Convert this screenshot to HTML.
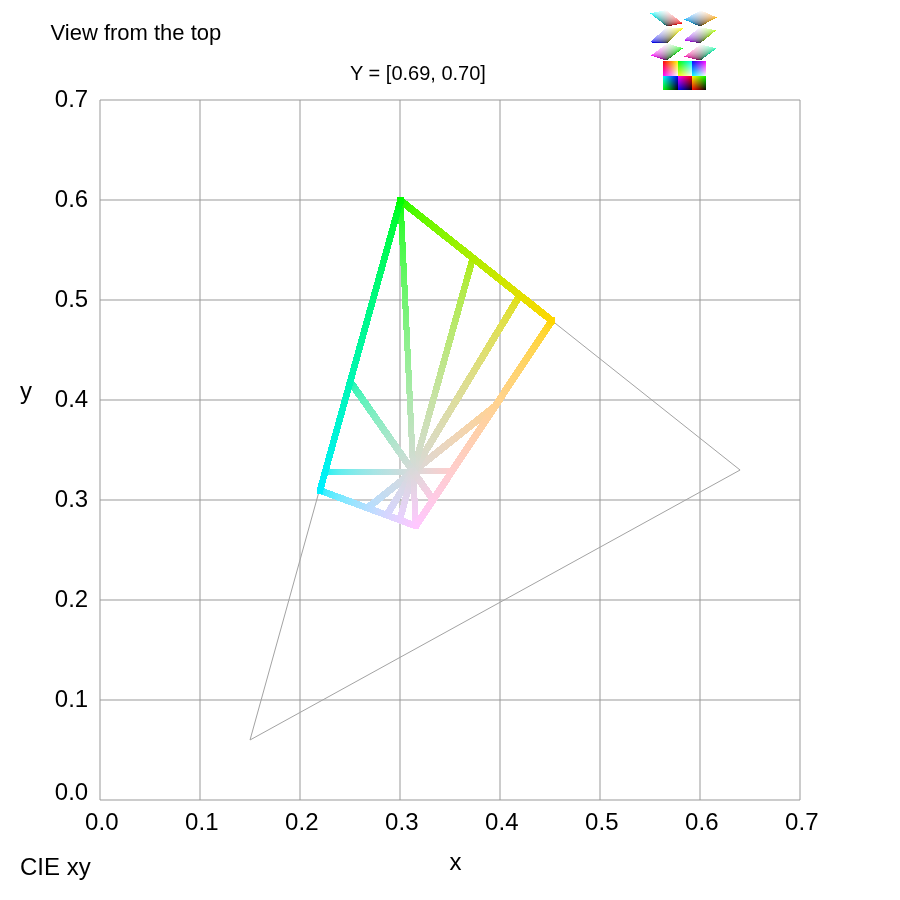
<!DOCTYPE html>
<html><head><meta charset="utf-8"><style>
html,body{margin:0;padding:0;background:#fff;width:900px;height:900px;overflow:hidden}
svg{display:block}
text{font-family:"Liberation Sans",Arial,sans-serif;fill:#000}
</style></head><body>
<svg width="900" height="900" viewBox="0 0 900 900">
<defs>
<linearGradient id="g0" gradientUnits="userSpaceOnUse" x1="412.72" y1="471.00" x2="451.40" y2="470.88"><stop offset="0.0000" stop-color="#d9d9d9"/><stop offset="0.0322" stop-color="#dbd9d9"/><stop offset="0.0645" stop-color="#dcd8d8"/><stop offset="0.0967" stop-color="#ddd8d8"/><stop offset="0.1290" stop-color="#dfd8d8"/><stop offset="0.1612" stop-color="#e0d7d7"/><stop offset="0.1935" stop-color="#e1d7d7"/><stop offset="0.2257" stop-color="#e2d7d7"/><stop offset="0.2580" stop-color="#e4d6d6"/><stop offset="0.2903" stop-color="#e5d6d6"/><stop offset="0.3225" stop-color="#e6d5d5"/><stop offset="0.3548" stop-color="#e8d5d5"/><stop offset="0.3870" stop-color="#e9d5d5"/><stop offset="0.4193" stop-color="#ead4d4"/><stop offset="0.4515" stop-color="#ebd4d4"/><stop offset="0.4838" stop-color="#ecd4d4"/><stop offset="0.5160" stop-color="#eed3d3"/><stop offset="0.5483" stop-color="#efd3d3"/><stop offset="0.5806" stop-color="#f0d2d2"/><stop offset="0.6128" stop-color="#f1d2d2"/><stop offset="0.6451" stop-color="#f2d2d2"/><stop offset="0.6773" stop-color="#f4d1d1"/><stop offset="0.7096" stop-color="#f5d1d1"/><stop offset="0.7419" stop-color="#f6d0d0"/><stop offset="0.7741" stop-color="#f7d0d0"/><stop offset="0.8064" stop-color="#f8d0d0"/><stop offset="0.8387" stop-color="#f9cfcf"/><stop offset="0.8709" stop-color="#fbcfcf"/><stop offset="0.9032" stop-color="#fccfcf"/><stop offset="0.9355" stop-color="#fdcece"/><stop offset="0.9677" stop-color="#fecece"/><stop offset="1.0000" stop-color="#ffcdcd"/></linearGradient>
<linearGradient id="g1" gradientUnits="userSpaceOnUse" x1="412.72" y1="471.00" x2="494.58" y2="405.73"><stop offset="0.0000" stop-color="#d9d9d9"/><stop offset="0.0271" stop-color="#dbd9d7"/><stop offset="0.0544" stop-color="#dcd9d5"/><stop offset="0.0821" stop-color="#ddd8d4"/><stop offset="0.1100" stop-color="#dfd8d2"/><stop offset="0.1383" stop-color="#e0d8d0"/><stop offset="0.1669" stop-color="#e1d8ce"/><stop offset="0.1957" stop-color="#e2d8cc"/><stop offset="0.2250" stop-color="#e4d7ca"/><stop offset="0.2545" stop-color="#e5d7c8"/><stop offset="0.2844" stop-color="#e6d7c6"/><stop offset="0.3146" stop-color="#e8d7c4"/><stop offset="0.3451" stop-color="#e9d6c2"/><stop offset="0.3760" stop-color="#ead6c0"/><stop offset="0.4073" stop-color="#ebd6be"/><stop offset="0.4389" stop-color="#ecd6bb"/><stop offset="0.4709" stop-color="#eed6b9"/><stop offset="0.5033" stop-color="#efd5b7"/><stop offset="0.5360" stop-color="#f0d5b5"/><stop offset="0.5692" stop-color="#f1d5b2"/><stop offset="0.6027" stop-color="#f2d5b0"/><stop offset="0.6367" stop-color="#f4d4ae"/><stop offset="0.6710" stop-color="#f5d4ab"/><stop offset="0.7058" stop-color="#f6d4a9"/><stop offset="0.7410" stop-color="#f7d4a6"/><stop offset="0.7766" stop-color="#f8d3a3"/><stop offset="0.8127" stop-color="#f9d3a1"/><stop offset="0.8492" stop-color="#fbd39e"/><stop offset="0.8862" stop-color="#fcd39b"/><stop offset="0.9237" stop-color="#fdd399"/><stop offset="0.9616" stop-color="#fed296"/><stop offset="1.0000" stop-color="#ffd293"/></linearGradient>
<linearGradient id="g2" gradientUnits="userSpaceOnUse" x1="412.72" y1="471.00" x2="519.32" y2="294.74"><stop offset="0.0000" stop-color="#d9d9d9"/><stop offset="0.0212" stop-color="#d9d9d6"/><stop offset="0.0430" stop-color="#dadad3"/><stop offset="0.0652" stop-color="#dadad0"/><stop offset="0.0880" stop-color="#dadacc"/><stop offset="0.1113" stop-color="#dadac9"/><stop offset="0.1352" stop-color="#dbdbc5"/><stop offset="0.1596" stop-color="#dbdbc2"/><stop offset="0.1847" stop-color="#dbdbbe"/><stop offset="0.2103" stop-color="#dbdbba"/><stop offset="0.2367" stop-color="#dcdcb7"/><stop offset="0.2637" stop-color="#dcdcb3"/><stop offset="0.2914" stop-color="#dcdcae"/><stop offset="0.3199" stop-color="#dcdcaa"/><stop offset="0.3491" stop-color="#dddda6"/><stop offset="0.3791" stop-color="#dddda1"/><stop offset="0.4099" stop-color="#dddd9d"/><stop offset="0.4416" stop-color="#dddd98"/><stop offset="0.4741" stop-color="#dddd93"/><stop offset="0.5076" stop-color="#dede8e"/><stop offset="0.5421" stop-color="#dede88"/><stop offset="0.5776" stop-color="#dede82"/><stop offset="0.6142" stop-color="#dede7c"/><stop offset="0.6518" stop-color="#dfdf75"/><stop offset="0.6906" stop-color="#dfdf6e"/><stop offset="0.7307" stop-color="#dfdf67"/><stop offset="0.7720" stop-color="#dfdf5e"/><stop offset="0.8147" stop-color="#e0e054"/><stop offset="0.8587" stop-color="#e0e049"/><stop offset="0.9042" stop-color="#e0e03c"/><stop offset="0.9513" stop-color="#e0e029"/><stop offset="1.0000" stop-color="#e0e000"/></linearGradient>
<linearGradient id="g3" gradientUnits="userSpaceOnUse" x1="412.72" y1="471.00" x2="472.35" y2="257.45"><stop offset="0.0000" stop-color="#d9d9d9"/><stop offset="0.0198" stop-color="#d8dad6"/><stop offset="0.0401" stop-color="#d7dbd3"/><stop offset="0.0610" stop-color="#d5dbd0"/><stop offset="0.0824" stop-color="#d4dccc"/><stop offset="0.1044" stop-color="#d3dcc9"/><stop offset="0.1270" stop-color="#d2ddc5"/><stop offset="0.1503" stop-color="#d0dec2"/><stop offset="0.1742" stop-color="#cfdebe"/><stop offset="0.1988" stop-color="#cedfba"/><stop offset="0.2241" stop-color="#cde0b7"/><stop offset="0.2501" stop-color="#cbe0b3"/><stop offset="0.2769" stop-color="#cae1ae"/><stop offset="0.3046" stop-color="#c9e2aa"/><stop offset="0.3331" stop-color="#c7e2a6"/><stop offset="0.3624" stop-color="#c6e3a1"/><stop offset="0.3928" stop-color="#c4e49d"/><stop offset="0.4241" stop-color="#c3e498"/><stop offset="0.4564" stop-color="#c2e593"/><stop offset="0.4898" stop-color="#c0e68e"/><stop offset="0.5244" stop-color="#bfe688"/><stop offset="0.5601" stop-color="#bde782"/><stop offset="0.5971" stop-color="#bce77c"/><stop offset="0.6355" stop-color="#bae875"/><stop offset="0.6752" stop-color="#b9e96e"/><stop offset="0.7164" stop-color="#b7e967"/><stop offset="0.7592" stop-color="#b6ea5e"/><stop offset="0.8037" stop-color="#b4ea54"/><stop offset="0.8498" stop-color="#b3eb49"/><stop offset="0.8979" stop-color="#b1ec3c"/><stop offset="0.9479" stop-color="#b0ec29"/><stop offset="1.0000" stop-color="#aeed00"/></linearGradient>
<linearGradient id="g4" gradientUnits="userSpaceOnUse" x1="412.72" y1="471.00" x2="400.00" y2="200.00"><stop offset="0.0000" stop-color="#d9d9d9"/><stop offset="0.0179" stop-color="#d6dad6"/><stop offset="0.0364" stop-color="#d3dcd3"/><stop offset="0.0555" stop-color="#d0ddd0"/><stop offset="0.0751" stop-color="#ccdecc"/><stop offset="0.0954" stop-color="#c9dfc9"/><stop offset="0.1163" stop-color="#c5e0c5"/><stop offset="0.1379" stop-color="#c2e2c2"/><stop offset="0.1602" stop-color="#bee3be"/><stop offset="0.1832" stop-color="#bae4ba"/><stop offset="0.2070" stop-color="#b7e5b7"/><stop offset="0.2317" stop-color="#b3e6b3"/><stop offset="0.2572" stop-color="#aee7ae"/><stop offset="0.2837" stop-color="#aae9aa"/><stop offset="0.3111" stop-color="#a6eaa6"/><stop offset="0.3395" stop-color="#a1eba1"/><stop offset="0.3690" stop-color="#9dec9d"/><stop offset="0.3997" stop-color="#98ed98"/><stop offset="0.4316" stop-color="#93ee93"/><stop offset="0.4647" stop-color="#8eef8e"/><stop offset="0.4992" stop-color="#88f088"/><stop offset="0.5352" stop-color="#82f182"/><stop offset="0.5727" stop-color="#7cf27c"/><stop offset="0.6119" stop-color="#75f375"/><stop offset="0.6528" stop-color="#6ef56e"/><stop offset="0.6956" stop-color="#67f667"/><stop offset="0.7404" stop-color="#5ef75e"/><stop offset="0.7873" stop-color="#54f854"/><stop offset="0.8365" stop-color="#49f949"/><stop offset="0.8883" stop-color="#3cfa3c"/><stop offset="0.9427" stop-color="#29fb29"/><stop offset="1.0000" stop-color="#00fc00"/></linearGradient>
<linearGradient id="g5" gradientUnits="userSpaceOnUse" x1="412.72" y1="471.00" x2="349.69" y2="381.12"><stop offset="0.0000" stop-color="#d9d9d9"/><stop offset="0.0255" stop-color="#d6dad8"/><stop offset="0.0514" stop-color="#d3dbd7"/><stop offset="0.0776" stop-color="#d0dcd6"/><stop offset="0.1042" stop-color="#ccddd5"/><stop offset="0.1312" stop-color="#c9ded4"/><stop offset="0.1586" stop-color="#c5dfd3"/><stop offset="0.1864" stop-color="#c2e0d2"/><stop offset="0.2146" stop-color="#bee1d1"/><stop offset="0.2432" stop-color="#bae2d0"/><stop offset="0.2722" stop-color="#b7e3ce"/><stop offset="0.3017" stop-color="#b3e4cd"/><stop offset="0.3316" stop-color="#aee5cc"/><stop offset="0.3619" stop-color="#aae6cb"/><stop offset="0.3928" stop-color="#a6e7ca"/><stop offset="0.4241" stop-color="#a1e8c9"/><stop offset="0.4559" stop-color="#9de9c8"/><stop offset="0.4882" stop-color="#98eac6"/><stop offset="0.5210" stop-color="#93ebc5"/><stop offset="0.5543" stop-color="#8eecc4"/><stop offset="0.5881" stop-color="#88edc3"/><stop offset="0.6226" stop-color="#82edc2"/><stop offset="0.6575" stop-color="#7ceec0"/><stop offset="0.6931" stop-color="#75efbf"/><stop offset="0.7292" stop-color="#6ef0be"/><stop offset="0.7660" stop-color="#67f1bd"/><stop offset="0.8033" stop-color="#5ef2bc"/><stop offset="0.8413" stop-color="#54f3ba"/><stop offset="0.8800" stop-color="#49f4b9"/><stop offset="0.9193" stop-color="#3cf5b8"/><stop offset="0.9593" stop-color="#29f6b6"/><stop offset="1.0000" stop-color="#00f6b5"/></linearGradient>
<linearGradient id="g6" gradientUnits="userSpaceOnUse" x1="412.72" y1="471.00" x2="324.66" y2="471.26"><stop offset="0.0000" stop-color="#d9d9d9"/><stop offset="0.0323" stop-color="#d6dada"/><stop offset="0.0646" stop-color="#d3dbdb"/><stop offset="0.0968" stop-color="#d0dcdc"/><stop offset="0.1291" stop-color="#ccdcdc"/><stop offset="0.1614" stop-color="#c9dddd"/><stop offset="0.1937" stop-color="#c5dede"/><stop offset="0.2259" stop-color="#c2dfdf"/><stop offset="0.2582" stop-color="#bee0e0"/><stop offset="0.2905" stop-color="#bae1e1"/><stop offset="0.3228" stop-color="#b7e1e1"/><stop offset="0.3550" stop-color="#b3e2e2"/><stop offset="0.3873" stop-color="#aee3e3"/><stop offset="0.4195" stop-color="#aae4e4"/><stop offset="0.4518" stop-color="#a6e5e5"/><stop offset="0.4841" stop-color="#a1e5e5"/><stop offset="0.5163" stop-color="#9de6e6"/><stop offset="0.5486" stop-color="#98e7e7"/><stop offset="0.5808" stop-color="#93e8e8"/><stop offset="0.6131" stop-color="#8ee8e8"/><stop offset="0.6453" stop-color="#88e9e9"/><stop offset="0.6776" stop-color="#82eaea"/><stop offset="0.7098" stop-color="#7cebeb"/><stop offset="0.7421" stop-color="#75ebeb"/><stop offset="0.7743" stop-color="#6eecec"/><stop offset="0.8066" stop-color="#67eded"/><stop offset="0.8388" stop-color="#5eeeee"/><stop offset="0.8711" stop-color="#54eeee"/><stop offset="0.9033" stop-color="#49efef"/><stop offset="0.9355" stop-color="#3cf0f0"/><stop offset="0.9678" stop-color="#29f1f1"/><stop offset="1.0000" stop-color="#00f1f1"/></linearGradient>
<linearGradient id="g7" gradientUnits="userSpaceOnUse" x1="412.72" y1="471.00" x2="366.94" y2="507.50"><stop offset="0.0000" stop-color="#d9d9d9"/><stop offset="0.0361" stop-color="#d8d9db"/><stop offset="0.0720" stop-color="#d7d9dc"/><stop offset="0.1076" stop-color="#d6dadd"/><stop offset="0.1428" stop-color="#d5dadf"/><stop offset="0.1778" stop-color="#d4dae0"/><stop offset="0.2126" stop-color="#d3dae1"/><stop offset="0.2470" stop-color="#d2dae2"/><stop offset="0.2812" stop-color="#d1dae4"/><stop offset="0.3151" stop-color="#d0dbe5"/><stop offset="0.3488" stop-color="#cfdbe6"/><stop offset="0.3822" stop-color="#cddbe8"/><stop offset="0.4153" stop-color="#ccdbe9"/><stop offset="0.4482" stop-color="#cbdbea"/><stop offset="0.4809" stop-color="#cadbeb"/><stop offset="0.5133" stop-color="#c9dcec"/><stop offset="0.5454" stop-color="#c8dcee"/><stop offset="0.5773" stop-color="#c7dcef"/><stop offset="0.6090" stop-color="#c5dcf0"/><stop offset="0.6404" stop-color="#c4dcf1"/><stop offset="0.6716" stop-color="#c3dcf2"/><stop offset="0.7026" stop-color="#c2ddf4"/><stop offset="0.7333" stop-color="#c1ddf5"/><stop offset="0.7638" stop-color="#c0ddf6"/><stop offset="0.7941" stop-color="#beddf7"/><stop offset="0.8241" stop-color="#bdddf8"/><stop offset="0.8540" stop-color="#bcddf9"/><stop offset="0.8836" stop-color="#bbdefb"/><stop offset="0.9130" stop-color="#b9defc"/><stop offset="0.9422" stop-color="#b8defd"/><stop offset="0.9712" stop-color="#b7defe"/><stop offset="1.0000" stop-color="#b6deff"/></linearGradient>
<linearGradient id="g8" gradientUnits="userSpaceOnUse" x1="412.72" y1="471.00" x2="386.30" y2="514.68"><stop offset="0.0000" stop-color="#d9d9d9"/><stop offset="0.0370" stop-color="#d9d9db"/><stop offset="0.0737" stop-color="#d9d9dc"/><stop offset="0.1100" stop-color="#d9d9dd"/><stop offset="0.1459" stop-color="#d9d9df"/><stop offset="0.1815" stop-color="#d9d9e0"/><stop offset="0.2168" stop-color="#d9d9e1"/><stop offset="0.2517" stop-color="#d8d8e2"/><stop offset="0.2863" stop-color="#d8d8e4"/><stop offset="0.3205" stop-color="#d8d8e5"/><stop offset="0.3545" stop-color="#d8d8e6"/><stop offset="0.3881" stop-color="#d8d8e8"/><stop offset="0.4214" stop-color="#d8d8e9"/><stop offset="0.4544" stop-color="#d8d8ea"/><stop offset="0.4871" stop-color="#d8d8eb"/><stop offset="0.5195" stop-color="#d8d8ec"/><stop offset="0.5516" stop-color="#d7d7ee"/><stop offset="0.5834" stop-color="#d7d7ef"/><stop offset="0.6149" stop-color="#d7d7f0"/><stop offset="0.6461" stop-color="#d7d7f1"/><stop offset="0.6771" stop-color="#d7d7f2"/><stop offset="0.7077" stop-color="#d7d7f4"/><stop offset="0.7381" stop-color="#d7d7f5"/><stop offset="0.7683" stop-color="#d7d7f6"/><stop offset="0.7981" stop-color="#d7d7f7"/><stop offset="0.8277" stop-color="#d6d6f8"/><stop offset="0.8571" stop-color="#d6d6f9"/><stop offset="0.8861" stop-color="#d6d6fb"/><stop offset="0.9150" stop-color="#d6d6fc"/><stop offset="0.9436" stop-color="#d6d6fd"/><stop offset="0.9719" stop-color="#d6d6fe"/><stop offset="1.0000" stop-color="#d6d6ff"/></linearGradient>
<linearGradient id="g9" gradientUnits="userSpaceOnUse" x1="412.72" y1="471.00" x2="399.18" y2="519.46"><stop offset="0.0000" stop-color="#d9d9d9"/><stop offset="0.0376" stop-color="#dad9db"/><stop offset="0.0748" stop-color="#dad9dc"/><stop offset="0.1116" stop-color="#dbd8dd"/><stop offset="0.1480" stop-color="#dbd8df"/><stop offset="0.1840" stop-color="#dcd8e0"/><stop offset="0.2196" stop-color="#dcd7e1"/><stop offset="0.2549" stop-color="#ddd7e2"/><stop offset="0.2897" stop-color="#ddd7e4"/><stop offset="0.3242" stop-color="#ded6e5"/><stop offset="0.3583" stop-color="#ded6e6"/><stop offset="0.3921" stop-color="#dfd6e8"/><stop offset="0.4255" stop-color="#dfd6e9"/><stop offset="0.4586" stop-color="#e0d5ea"/><stop offset="0.4913" stop-color="#e0d5eb"/><stop offset="0.5237" stop-color="#e1d5ec"/><stop offset="0.5557" stop-color="#e1d4ee"/><stop offset="0.5875" stop-color="#e2d4ef"/><stop offset="0.6189" stop-color="#e2d4f0"/><stop offset="0.6500" stop-color="#e3d3f1"/><stop offset="0.6807" stop-color="#e4d3f2"/><stop offset="0.7112" stop-color="#e4d3f4"/><stop offset="0.7414" stop-color="#e5d3f5"/><stop offset="0.7713" stop-color="#e5d2f6"/><stop offset="0.8008" stop-color="#e5d2f7"/><stop offset="0.8301" stop-color="#e6d2f8"/><stop offset="0.8591" stop-color="#e6d1f9"/><stop offset="0.8878" stop-color="#e7d1fb"/><stop offset="0.9163" stop-color="#e7d1fc"/><stop offset="0.9445" stop-color="#e8d0fd"/><stop offset="0.9724" stop-color="#e8d0fe"/><stop offset="1.0000" stop-color="#e9d0ff"/></linearGradient>
<linearGradient id="g10" gradientUnits="userSpaceOnUse" x1="412.72" y1="471.00" x2="415.27" y2="525.42"><stop offset="0.0000" stop-color="#d9d9d9"/><stop offset="0.0384" stop-color="#dbd9db"/><stop offset="0.0763" stop-color="#dcd8dc"/><stop offset="0.1138" stop-color="#ddd8dd"/><stop offset="0.1508" stop-color="#dfd7df"/><stop offset="0.1873" stop-color="#e0d6e0"/><stop offset="0.2233" stop-color="#e1d6e1"/><stop offset="0.2590" stop-color="#e2d5e2"/><stop offset="0.2942" stop-color="#e4d5e4"/><stop offset="0.3289" stop-color="#e5d4e5"/><stop offset="0.3633" stop-color="#e6d4e6"/><stop offset="0.3972" stop-color="#e8d3e8"/><stop offset="0.4308" stop-color="#e9d3e9"/><stop offset="0.4639" stop-color="#ead2ea"/><stop offset="0.4967" stop-color="#ebd1eb"/><stop offset="0.5290" stop-color="#ecd1ec"/><stop offset="0.5610" stop-color="#eed0ee"/><stop offset="0.5927" stop-color="#efd0ef"/><stop offset="0.6239" stop-color="#f0cff0"/><stop offset="0.6548" stop-color="#f1cef1"/><stop offset="0.6854" stop-color="#f2cef2"/><stop offset="0.7156" stop-color="#f4cdf4"/><stop offset="0.7455" stop-color="#f5cdf5"/><stop offset="0.7750" stop-color="#f6ccf6"/><stop offset="0.8042" stop-color="#f7ccf7"/><stop offset="0.8331" stop-color="#f8cbf8"/><stop offset="0.8617" stop-color="#f9caf9"/><stop offset="0.8900" stop-color="#fbcafb"/><stop offset="0.9179" stop-color="#fcc9fc"/><stop offset="0.9456" stop-color="#fdc9fd"/><stop offset="0.9729" stop-color="#fec8fe"/><stop offset="1.0000" stop-color="#ffc7ff"/></linearGradient>
<linearGradient id="g11" gradientUnits="userSpaceOnUse" x1="412.72" y1="471.00" x2="432.57" y2="499.31"><stop offset="0.0000" stop-color="#d9d9d9"/><stop offset="0.0352" stop-color="#dbd9da"/><stop offset="0.0702" stop-color="#dcd8da"/><stop offset="0.1049" stop-color="#ddd8db"/><stop offset="0.1395" stop-color="#dfd7db"/><stop offset="0.1738" stop-color="#e0d7db"/><stop offset="0.2080" stop-color="#e1d6dc"/><stop offset="0.2419" stop-color="#e2d6dc"/><stop offset="0.2757" stop-color="#e4d6dd"/><stop offset="0.3092" stop-color="#e5d5dd"/><stop offset="0.3426" stop-color="#e6d5de"/><stop offset="0.3757" stop-color="#e8d4de"/><stop offset="0.4087" stop-color="#e9d4df"/><stop offset="0.4414" stop-color="#ead3df"/><stop offset="0.4740" stop-color="#ebd3df"/><stop offset="0.5064" stop-color="#ecd2e0"/><stop offset="0.5386" stop-color="#eed2e0"/><stop offset="0.5706" stop-color="#efd1e1"/><stop offset="0.6024" stop-color="#f0d1e1"/><stop offset="0.6340" stop-color="#f1d0e2"/><stop offset="0.6655" stop-color="#f2d0e2"/><stop offset="0.6968" stop-color="#f4cfe2"/><stop offset="0.7279" stop-color="#f5cfe3"/><stop offset="0.7588" stop-color="#f6cee3"/><stop offset="0.7895" stop-color="#f7cee4"/><stop offset="0.8201" stop-color="#f8cde4"/><stop offset="0.8505" stop-color="#f9cde5"/><stop offset="0.8807" stop-color="#fbcce5"/><stop offset="0.9108" stop-color="#fccce5"/><stop offset="0.9407" stop-color="#fdcce6"/><stop offset="0.9704" stop-color="#fecbe6"/><stop offset="1.0000" stop-color="#ffcbe7"/></linearGradient>
<linearGradient id="g12" gradientUnits="userSpaceOnUse" x1="400.00" y1="200.00" x2="551.29" y2="320.13"><stop offset="0.0000" stop-color="#00fc00"/><stop offset="0.0265" stop-color="#28fb00"/><stop offset="0.0526" stop-color="#3afa00"/><stop offset="0.0786" stop-color="#47fa00"/><stop offset="0.1042" stop-color="#52f900"/><stop offset="0.1296" stop-color="#5cf800"/><stop offset="0.1547" stop-color="#64f700"/><stop offset="0.1795" stop-color="#6cf700"/><stop offset="0.2041" stop-color="#73f600"/><stop offset="0.2285" stop-color="#79f500"/><stop offset="0.2526" stop-color="#7ff400"/><stop offset="0.2764" stop-color="#85f400"/><stop offset="0.3001" stop-color="#8af300"/><stop offset="0.3234" stop-color="#8ff200"/><stop offset="0.3466" stop-color="#94f100"/><stop offset="0.3695" stop-color="#99f100"/><stop offset="0.3922" stop-color="#9ef000"/><stop offset="0.4147" stop-color="#a2ef00"/><stop offset="0.4370" stop-color="#a6ee00"/><stop offset="0.4590" stop-color="#aaee00"/><stop offset="0.4808" stop-color="#aeed00"/><stop offset="0.5025" stop-color="#b2ec00"/><stop offset="0.5239" stop-color="#b6eb00"/><stop offset="0.5451" stop-color="#baea00"/><stop offset="0.5661" stop-color="#bdea00"/><stop offset="0.5869" stop-color="#c1e900"/><stop offset="0.6075" stop-color="#c4e800"/><stop offset="0.6280" stop-color="#c8e700"/><stop offset="0.6482" stop-color="#cbe600"/><stop offset="0.6683" stop-color="#cee600"/><stop offset="0.6881" stop-color="#d1e500"/><stop offset="0.7078" stop-color="#d4e400"/><stop offset="0.7273" stop-color="#d7e300"/><stop offset="0.7467" stop-color="#dae200"/><stop offset="0.7658" stop-color="#dde100"/><stop offset="0.7848" stop-color="#e0e100"/><stop offset="0.8036" stop-color="#e3e000"/><stop offset="0.8223" stop-color="#e5df00"/><stop offset="0.8407" stop-color="#e8de00"/><stop offset="0.8591" stop-color="#ebdd00"/><stop offset="0.8772" stop-color="#eedc00"/><stop offset="0.8952" stop-color="#f0dc00"/><stop offset="0.9131" stop-color="#f3db00"/><stop offset="0.9308" stop-color="#f5da00"/><stop offset="0.9483" stop-color="#f8d900"/><stop offset="0.9657" stop-color="#fad800"/><stop offset="0.9829" stop-color="#fdd700"/><stop offset="1.0000" stop-color="#ffd600"/></linearGradient>
<linearGradient id="g13" gradientUnits="userSpaceOnUse" x1="551.29" y1="320.13" x2="415.27" y2="525.42"><stop offset="0.0000" stop-color="#ffd600"/><stop offset="0.0366" stop-color="#ffd628"/><stop offset="0.0721" stop-color="#ffd63a"/><stop offset="0.1065" stop-color="#ffd547"/><stop offset="0.1398" stop-color="#ffd552"/><stop offset="0.1722" stop-color="#ffd55c"/><stop offset="0.2037" stop-color="#ffd464"/><stop offset="0.2342" stop-color="#ffd46c"/><stop offset="0.2639" stop-color="#ffd473"/><stop offset="0.2927" stop-color="#ffd479"/><stop offset="0.3208" stop-color="#ffd37f"/><stop offset="0.3481" stop-color="#ffd385"/><stop offset="0.3747" stop-color="#ffd38a"/><stop offset="0.4006" stop-color="#ffd28f"/><stop offset="0.4258" stop-color="#ffd294"/><stop offset="0.4503" stop-color="#ffd299"/><stop offset="0.4742" stop-color="#ffd19e"/><stop offset="0.4976" stop-color="#ffd1a2"/><stop offset="0.5203" stop-color="#ffd1a6"/><stop offset="0.5425" stop-color="#ffd0aa"/><stop offset="0.5642" stop-color="#ffd0ae"/><stop offset="0.5853" stop-color="#ffd0b2"/><stop offset="0.6060" stop-color="#ffcfb6"/><stop offset="0.6261" stop-color="#ffcfba"/><stop offset="0.6459" stop-color="#ffcfbd"/><stop offset="0.6651" stop-color="#ffcfc1"/><stop offset="0.6839" stop-color="#ffcec4"/><stop offset="0.7023" stop-color="#ffcec8"/><stop offset="0.7203" stop-color="#ffcecb"/><stop offset="0.7379" stop-color="#ffcdce"/><stop offset="0.7552" stop-color="#ffcdd1"/><stop offset="0.7720" stop-color="#ffcdd4"/><stop offset="0.7885" stop-color="#ffccd7"/><stop offset="0.8047" stop-color="#ffccda"/><stop offset="0.8205" stop-color="#ffccdd"/><stop offset="0.8360" stop-color="#ffcbe0"/><stop offset="0.8512" stop-color="#ffcbe3"/><stop offset="0.8661" stop-color="#ffcbe5"/><stop offset="0.8807" stop-color="#ffcae8"/><stop offset="0.8950" stop-color="#ffcaeb"/><stop offset="0.9090" stop-color="#ffcaee"/><stop offset="0.9227" stop-color="#ffc9f0"/><stop offset="0.9362" stop-color="#ffc9f3"/><stop offset="0.9495" stop-color="#ffc9f5"/><stop offset="0.9625" stop-color="#ffc8f8"/><stop offset="0.9752" stop-color="#ffc8fa"/><stop offset="0.9877" stop-color="#ffc8fd"/><stop offset="1.0000" stop-color="#ffc7ff"/></linearGradient>
<linearGradient id="g14" gradientUnits="userSpaceOnUse" x1="415.27" y1="525.42" x2="319.48" y2="489.90"><stop offset="0.0000" stop-color="#ffc7ff"/><stop offset="0.0189" stop-color="#fdc8ff"/><stop offset="0.0379" stop-color="#fac9ff"/><stop offset="0.0569" stop-color="#f8caff"/><stop offset="0.0761" stop-color="#f5cbff"/><stop offset="0.0954" stop-color="#f3ccff"/><stop offset="0.1147" stop-color="#f0cdff"/><stop offset="0.1342" stop-color="#eeceff"/><stop offset="0.1537" stop-color="#ebcfff"/><stop offset="0.1734" stop-color="#e8d0ff"/><stop offset="0.1931" stop-color="#e5d1ff"/><stop offset="0.2129" stop-color="#e3d2ff"/><stop offset="0.2329" stop-color="#e0d3ff"/><stop offset="0.2529" stop-color="#ddd4ff"/><stop offset="0.2731" stop-color="#dad5ff"/><stop offset="0.2933" stop-color="#d7d5ff"/><stop offset="0.3137" stop-color="#d4d6ff"/><stop offset="0.3341" stop-color="#d1d7ff"/><stop offset="0.3547" stop-color="#ced8ff"/><stop offset="0.3753" stop-color="#cbd9ff"/><stop offset="0.3961" stop-color="#c8daff"/><stop offset="0.4170" stop-color="#c4dbff"/><stop offset="0.4379" stop-color="#c1dcff"/><stop offset="0.4590" stop-color="#bddcff"/><stop offset="0.4802" stop-color="#baddff"/><stop offset="0.5015" stop-color="#b6deff"/><stop offset="0.5230" stop-color="#b2dfff"/><stop offset="0.5445" stop-color="#aee0ff"/><stop offset="0.5661" stop-color="#aae1ff"/><stop offset="0.5879" stop-color="#a6e2ff"/><stop offset="0.6098" stop-color="#a2e2ff"/><stop offset="0.6317" stop-color="#9ee3ff"/><stop offset="0.6539" stop-color="#99e4ff"/><stop offset="0.6761" stop-color="#94e5ff"/><stop offset="0.6984" stop-color="#8fe6ff"/><stop offset="0.7209" stop-color="#8ae6ff"/><stop offset="0.7434" stop-color="#85e7ff"/><stop offset="0.7661" stop-color="#7fe8ff"/><stop offset="0.7890" stop-color="#79e9ff"/><stop offset="0.8119" stop-color="#73eaff"/><stop offset="0.8350" stop-color="#6ceaff"/><stop offset="0.8582" stop-color="#64ebff"/><stop offset="0.8815" stop-color="#5cecff"/><stop offset="0.9049" stop-color="#52edff"/><stop offset="0.9285" stop-color="#47eeff"/><stop offset="0.9522" stop-color="#3aeeff"/><stop offset="0.9760" stop-color="#28efff"/><stop offset="1.0000" stop-color="#00f0ff"/></linearGradient>
<linearGradient id="g15" gradientUnits="userSpaceOnUse" x1="319.48" y1="489.90" x2="400.00" y2="200.00"><stop offset="0.0000" stop-color="#00f0ff"/><stop offset="0.0111" stop-color="#00f0fd"/><stop offset="0.0225" stop-color="#00f0fa"/><stop offset="0.0340" stop-color="#00f1f8"/><stop offset="0.0459" stop-color="#00f1f5"/><stop offset="0.0580" stop-color="#00f1f3"/><stop offset="0.0703" stop-color="#00f1f0"/><stop offset="0.0829" stop-color="#00f2ee"/><stop offset="0.0959" stop-color="#00f2eb"/><stop offset="0.1091" stop-color="#00f2e8"/><stop offset="0.1226" stop-color="#00f3e5"/><stop offset="0.1364" stop-color="#00f3e3"/><stop offset="0.1505" stop-color="#00f3e0"/><stop offset="0.1650" stop-color="#00f3dd"/><stop offset="0.1798" stop-color="#00f4da"/><stop offset="0.1950" stop-color="#00f4d7"/><stop offset="0.2106" stop-color="#00f4d4"/><stop offset="0.2265" stop-color="#00f4d1"/><stop offset="0.2429" stop-color="#00f5ce"/><stop offset="0.2596" stop-color="#00f5cb"/><stop offset="0.2769" stop-color="#00f5c8"/><stop offset="0.2945" stop-color="#00f5c4"/><stop offset="0.3126" stop-color="#00f6c1"/><stop offset="0.3312" stop-color="#00f6bd"/><stop offset="0.3504" stop-color="#00f6ba"/><stop offset="0.3700" stop-color="#00f6b6"/><stop offset="0.3902" stop-color="#00f7b2"/><stop offset="0.4110" stop-color="#00f7ae"/><stop offset="0.4324" stop-color="#00f7aa"/><stop offset="0.4544" stop-color="#00f7a6"/><stop offset="0.4770" stop-color="#00f8a2"/><stop offset="0.5003" stop-color="#00f89e"/><stop offset="0.5244" stop-color="#00f899"/><stop offset="0.5492" stop-color="#00f894"/><stop offset="0.5748" stop-color="#00f98f"/><stop offset="0.6012" stop-color="#00f98a"/><stop offset="0.6285" stop-color="#00f985"/><stop offset="0.6566" stop-color="#00f97f"/><stop offset="0.6858" stop-color="#00fa79"/><stop offset="0.7159" stop-color="#00fa73"/><stop offset="0.7470" stop-color="#00fa6c"/><stop offset="0.7793" stop-color="#00fa64"/><stop offset="0.8128" stop-color="#00fb5c"/><stop offset="0.8475" stop-color="#00fb52"/><stop offset="0.8835" stop-color="#00fb47"/><stop offset="0.9208" stop-color="#00fb3a"/><stop offset="0.9596" stop-color="#00fc28"/><stop offset="1.0000" stop-color="#00fc00"/></linearGradient>
<linearGradient id="q16c0" x1="0.0000" y1="0.0000" x2="0.0000" y2="1.0000"><stop offset="0.0000" stop-color="#000000"/><stop offset="0.0625" stop-color="#470000"/><stop offset="0.1250" stop-color="#630000"/><stop offset="0.1875" stop-color="#780000"/><stop offset="0.2500" stop-color="#890000"/><stop offset="0.3125" stop-color="#980000"/><stop offset="0.3750" stop-color="#a50000"/><stop offset="0.4375" stop-color="#b10000"/><stop offset="0.5000" stop-color="#bc0000"/><stop offset="0.5625" stop-color="#c60000"/><stop offset="0.6250" stop-color="#cf0000"/><stop offset="0.6875" stop-color="#d80000"/><stop offset="0.7500" stop-color="#e10000"/><stop offset="0.8125" stop-color="#e90000"/><stop offset="0.8750" stop-color="#f00000"/><stop offset="0.9375" stop-color="#f80000"/><stop offset="1.0000" stop-color="#ff0000"/></linearGradient>
<linearGradient id="q16c1" x1="0.0000" y1="0.0000" x2="1.0000" y2="0.0000"><stop offset="0.0000" stop-color="#000000"/><stop offset="0.0625" stop-color="#004700"/><stop offset="0.1250" stop-color="#006300"/><stop offset="0.1875" stop-color="#007800"/><stop offset="0.2500" stop-color="#008900"/><stop offset="0.3125" stop-color="#009800"/><stop offset="0.3750" stop-color="#00a500"/><stop offset="0.4375" stop-color="#00b100"/><stop offset="0.5000" stop-color="#00bc00"/><stop offset="0.5625" stop-color="#00c600"/><stop offset="0.6250" stop-color="#00cf00"/><stop offset="0.6875" stop-color="#00d800"/><stop offset="0.7500" stop-color="#00e100"/><stop offset="0.8125" stop-color="#00e900"/><stop offset="0.8750" stop-color="#00f000"/><stop offset="0.9375" stop-color="#00f800"/><stop offset="1.0000" stop-color="#00ff00"/></linearGradient>
<linearGradient id="q16c2" x1="0.0000" y1="0.0000" x2="1.0000" y2="0.0000"><stop offset="0.0000" stop-color="#000000"/><stop offset="0.0625" stop-color="#000047"/><stop offset="0.1250" stop-color="#000063"/><stop offset="0.1875" stop-color="#000078"/><stop offset="0.2500" stop-color="#000089"/><stop offset="0.3125" stop-color="#000098"/><stop offset="0.3750" stop-color="#0000a5"/><stop offset="0.4375" stop-color="#0000b1"/><stop offset="0.5000" stop-color="#0000bc"/><stop offset="0.5625" stop-color="#0000c6"/><stop offset="0.6250" stop-color="#0000cf"/><stop offset="0.6875" stop-color="#0000d8"/><stop offset="0.7500" stop-color="#0000e1"/><stop offset="0.8125" stop-color="#0000e9"/><stop offset="0.8750" stop-color="#0000f0"/><stop offset="0.9375" stop-color="#0000f8"/><stop offset="1.0000" stop-color="#0000ff"/></linearGradient>
<linearGradient id="q17c0" x1="0.0000" y1="0.0000" x2="0.0000" y2="1.0000"><stop offset="0.0000" stop-color="#000000"/><stop offset="0.0625" stop-color="#470000"/><stop offset="0.1250" stop-color="#630000"/><stop offset="0.1875" stop-color="#780000"/><stop offset="0.2500" stop-color="#890000"/><stop offset="0.3125" stop-color="#980000"/><stop offset="0.3750" stop-color="#a50000"/><stop offset="0.4375" stop-color="#b10000"/><stop offset="0.5000" stop-color="#bc0000"/><stop offset="0.5625" stop-color="#c60000"/><stop offset="0.6250" stop-color="#cf0000"/><stop offset="0.6875" stop-color="#d80000"/><stop offset="0.7500" stop-color="#e10000"/><stop offset="0.8125" stop-color="#e90000"/><stop offset="0.8750" stop-color="#f00000"/><stop offset="0.9375" stop-color="#f80000"/><stop offset="1.0000" stop-color="#ff0000"/></linearGradient>
<linearGradient id="q17c1" x1="0.0000" y1="0.0000" x2="1.0000" y2="1.0000"><stop offset="0.0000" stop-color="#000000"/><stop offset="0.0625" stop-color="#004700"/><stop offset="0.1250" stop-color="#006300"/><stop offset="0.1875" stop-color="#007800"/><stop offset="0.2500" stop-color="#008900"/><stop offset="0.3125" stop-color="#009800"/><stop offset="0.3750" stop-color="#00a500"/><stop offset="0.4375" stop-color="#00b100"/><stop offset="0.5000" stop-color="#00bc00"/><stop offset="0.5625" stop-color="#00c600"/><stop offset="0.6250" stop-color="#00cf00"/><stop offset="0.6875" stop-color="#00d800"/><stop offset="0.7500" stop-color="#00e100"/><stop offset="0.8125" stop-color="#00e900"/><stop offset="0.8750" stop-color="#00f000"/><stop offset="0.9375" stop-color="#00f800"/><stop offset="1.0000" stop-color="#00ff00"/></linearGradient>
<linearGradient id="q17c2" x1="0.0000" y1="0.0000" x2="1.0000" y2="0.0000"><stop offset="0.0000" stop-color="#000000"/><stop offset="0.0625" stop-color="#000047"/><stop offset="0.1250" stop-color="#000063"/><stop offset="0.1875" stop-color="#000078"/><stop offset="0.2500" stop-color="#000089"/><stop offset="0.3125" stop-color="#000098"/><stop offset="0.3750" stop-color="#0000a5"/><stop offset="0.4375" stop-color="#0000b1"/><stop offset="0.5000" stop-color="#0000bc"/><stop offset="0.5625" stop-color="#0000c6"/><stop offset="0.6250" stop-color="#0000cf"/><stop offset="0.6875" stop-color="#0000d8"/><stop offset="0.7500" stop-color="#0000e1"/><stop offset="0.8125" stop-color="#0000e9"/><stop offset="0.8750" stop-color="#0000f0"/><stop offset="0.9375" stop-color="#0000f8"/><stop offset="1.0000" stop-color="#0000ff"/></linearGradient>
<linearGradient id="q18c0" x1="0.0000" y1="0.0000" x2="0.0000" y2="1.0000"><stop offset="0.0000" stop-color="#000000"/><stop offset="0.0625" stop-color="#470000"/><stop offset="0.1250" stop-color="#630000"/><stop offset="0.1875" stop-color="#780000"/><stop offset="0.2500" stop-color="#890000"/><stop offset="0.3125" stop-color="#980000"/><stop offset="0.3750" stop-color="#a50000"/><stop offset="0.4375" stop-color="#b10000"/><stop offset="0.5000" stop-color="#bc0000"/><stop offset="0.5625" stop-color="#c60000"/><stop offset="0.6250" stop-color="#cf0000"/><stop offset="0.6875" stop-color="#d80000"/><stop offset="0.7500" stop-color="#e10000"/><stop offset="0.8125" stop-color="#e90000"/><stop offset="0.8750" stop-color="#f00000"/><stop offset="0.9375" stop-color="#f80000"/><stop offset="1.0000" stop-color="#ff0000"/></linearGradient>
<linearGradient id="q18c1" x1="0.0000" y1="0.0000" x2="0.0000" y2="1.0000"><stop offset="0.0000" stop-color="#000000"/><stop offset="0.0625" stop-color="#004700"/><stop offset="0.1250" stop-color="#006300"/><stop offset="0.1875" stop-color="#007800"/><stop offset="0.2500" stop-color="#008900"/><stop offset="0.3125" stop-color="#009800"/><stop offset="0.3750" stop-color="#00a500"/><stop offset="0.4375" stop-color="#00b100"/><stop offset="0.5000" stop-color="#00bc00"/><stop offset="0.5625" stop-color="#00c600"/><stop offset="0.6250" stop-color="#00cf00"/><stop offset="0.6875" stop-color="#00d800"/><stop offset="0.7500" stop-color="#00e100"/><stop offset="0.8125" stop-color="#00e900"/><stop offset="0.8750" stop-color="#00f000"/><stop offset="0.9375" stop-color="#00f800"/><stop offset="1.0000" stop-color="#00ff00"/></linearGradient>
<linearGradient id="q18c2" x1="0.0000" y1="0.0000" x2="1.0000" y2="0.0000"><stop offset="0.0000" stop-color="#000000"/><stop offset="0.0625" stop-color="#000047"/><stop offset="0.1250" stop-color="#000063"/><stop offset="0.1875" stop-color="#000078"/><stop offset="0.2500" stop-color="#000089"/><stop offset="0.3125" stop-color="#000098"/><stop offset="0.3750" stop-color="#0000a5"/><stop offset="0.4375" stop-color="#0000b1"/><stop offset="0.5000" stop-color="#0000bc"/><stop offset="0.5625" stop-color="#0000c6"/><stop offset="0.6250" stop-color="#0000cf"/><stop offset="0.6875" stop-color="#0000d8"/><stop offset="0.7500" stop-color="#0000e1"/><stop offset="0.8125" stop-color="#0000e9"/><stop offset="0.8750" stop-color="#0000f0"/><stop offset="0.9375" stop-color="#0000f8"/><stop offset="1.0000" stop-color="#0000ff"/></linearGradient>
<linearGradient id="q19c0" x1="0.0000" y1="0.0000" x2="1.0000" y2="1.0000"><stop offset="0.0000" stop-color="#000000"/><stop offset="0.0625" stop-color="#470000"/><stop offset="0.1250" stop-color="#630000"/><stop offset="0.1875" stop-color="#780000"/><stop offset="0.2500" stop-color="#890000"/><stop offset="0.3125" stop-color="#980000"/><stop offset="0.3750" stop-color="#a50000"/><stop offset="0.4375" stop-color="#b10000"/><stop offset="0.5000" stop-color="#bc0000"/><stop offset="0.5625" stop-color="#c60000"/><stop offset="0.6250" stop-color="#cf0000"/><stop offset="0.6875" stop-color="#d80000"/><stop offset="0.7500" stop-color="#e10000"/><stop offset="0.8125" stop-color="#e90000"/><stop offset="0.8750" stop-color="#f00000"/><stop offset="0.9375" stop-color="#f80000"/><stop offset="1.0000" stop-color="#ff0000"/></linearGradient>
<linearGradient id="q19c1" x1="0.0000" y1="0.0000" x2="0.0000" y2="1.0000"><stop offset="0.0000" stop-color="#000000"/><stop offset="0.0625" stop-color="#004700"/><stop offset="0.1250" stop-color="#006300"/><stop offset="0.1875" stop-color="#007800"/><stop offset="0.2500" stop-color="#008900"/><stop offset="0.3125" stop-color="#009800"/><stop offset="0.3750" stop-color="#00a500"/><stop offset="0.4375" stop-color="#00b100"/><stop offset="0.5000" stop-color="#00bc00"/><stop offset="0.5625" stop-color="#00c600"/><stop offset="0.6250" stop-color="#00cf00"/><stop offset="0.6875" stop-color="#00d800"/><stop offset="0.7500" stop-color="#00e100"/><stop offset="0.8125" stop-color="#00e900"/><stop offset="0.8750" stop-color="#00f000"/><stop offset="0.9375" stop-color="#00f800"/><stop offset="1.0000" stop-color="#00ff00"/></linearGradient>
<linearGradient id="q19c2" x1="0.0000" y1="0.0000" x2="1.0000" y2="0.0000"><stop offset="0.0000" stop-color="#000000"/><stop offset="0.0625" stop-color="#000047"/><stop offset="0.1250" stop-color="#000063"/><stop offset="0.1875" stop-color="#000078"/><stop offset="0.2500" stop-color="#000089"/><stop offset="0.3125" stop-color="#000098"/><stop offset="0.3750" stop-color="#0000a5"/><stop offset="0.4375" stop-color="#0000b1"/><stop offset="0.5000" stop-color="#0000bc"/><stop offset="0.5625" stop-color="#0000c6"/><stop offset="0.6250" stop-color="#0000cf"/><stop offset="0.6875" stop-color="#0000d8"/><stop offset="0.7500" stop-color="#0000e1"/><stop offset="0.8125" stop-color="#0000e9"/><stop offset="0.8750" stop-color="#0000f0"/><stop offset="0.9375" stop-color="#0000f8"/><stop offset="1.0000" stop-color="#0000ff"/></linearGradient>
<linearGradient id="q20c0" x1="0.0000" y1="0.0000" x2="1.0000" y2="0.0000"><stop offset="0.0000" stop-color="#000000"/><stop offset="0.0625" stop-color="#470000"/><stop offset="0.1250" stop-color="#630000"/><stop offset="0.1875" stop-color="#780000"/><stop offset="0.2500" stop-color="#890000"/><stop offset="0.3125" stop-color="#980000"/><stop offset="0.3750" stop-color="#a50000"/><stop offset="0.4375" stop-color="#b10000"/><stop offset="0.5000" stop-color="#bc0000"/><stop offset="0.5625" stop-color="#c60000"/><stop offset="0.6250" stop-color="#cf0000"/><stop offset="0.6875" stop-color="#d80000"/><stop offset="0.7500" stop-color="#e10000"/><stop offset="0.8125" stop-color="#e90000"/><stop offset="0.8750" stop-color="#f00000"/><stop offset="0.9375" stop-color="#f80000"/><stop offset="1.0000" stop-color="#ff0000"/></linearGradient>
<linearGradient id="q20c1" x1="0.0000" y1="0.0000" x2="0.0000" y2="1.0000"><stop offset="0.0000" stop-color="#000000"/><stop offset="0.0625" stop-color="#004700"/><stop offset="0.1250" stop-color="#006300"/><stop offset="0.1875" stop-color="#007800"/><stop offset="0.2500" stop-color="#008900"/><stop offset="0.3125" stop-color="#009800"/><stop offset="0.3750" stop-color="#00a500"/><stop offset="0.4375" stop-color="#00b100"/><stop offset="0.5000" stop-color="#00bc00"/><stop offset="0.5625" stop-color="#00c600"/><stop offset="0.6250" stop-color="#00cf00"/><stop offset="0.6875" stop-color="#00d800"/><stop offset="0.7500" stop-color="#00e100"/><stop offset="0.8125" stop-color="#00e900"/><stop offset="0.8750" stop-color="#00f000"/><stop offset="0.9375" stop-color="#00f800"/><stop offset="1.0000" stop-color="#00ff00"/></linearGradient>
<linearGradient id="q20c2" x1="0.0000" y1="0.0000" x2="1.0000" y2="0.0000"><stop offset="0.0000" stop-color="#000000"/><stop offset="0.0625" stop-color="#000047"/><stop offset="0.1250" stop-color="#000063"/><stop offset="0.1875" stop-color="#000078"/><stop offset="0.2500" stop-color="#000089"/><stop offset="0.3125" stop-color="#000098"/><stop offset="0.3750" stop-color="#0000a5"/><stop offset="0.4375" stop-color="#0000b1"/><stop offset="0.5000" stop-color="#0000bc"/><stop offset="0.5625" stop-color="#0000c6"/><stop offset="0.6250" stop-color="#0000cf"/><stop offset="0.6875" stop-color="#0000d8"/><stop offset="0.7500" stop-color="#0000e1"/><stop offset="0.8125" stop-color="#0000e9"/><stop offset="0.8750" stop-color="#0000f0"/><stop offset="0.9375" stop-color="#0000f8"/><stop offset="1.0000" stop-color="#0000ff"/></linearGradient>
<linearGradient id="q21c0" x1="0.0000" y1="0.0000" x2="1.0000" y2="0.0000"><stop offset="0.0000" stop-color="#000000"/><stop offset="0.0625" stop-color="#470000"/><stop offset="0.1250" stop-color="#630000"/><stop offset="0.1875" stop-color="#780000"/><stop offset="0.2500" stop-color="#890000"/><stop offset="0.3125" stop-color="#980000"/><stop offset="0.3750" stop-color="#a50000"/><stop offset="0.4375" stop-color="#b10000"/><stop offset="0.5000" stop-color="#bc0000"/><stop offset="0.5625" stop-color="#c60000"/><stop offset="0.6250" stop-color="#cf0000"/><stop offset="0.6875" stop-color="#d80000"/><stop offset="0.7500" stop-color="#e10000"/><stop offset="0.8125" stop-color="#e90000"/><stop offset="0.8750" stop-color="#f00000"/><stop offset="0.9375" stop-color="#f80000"/><stop offset="1.0000" stop-color="#ff0000"/></linearGradient>
<linearGradient id="q21c1" x1="0.0000" y1="0.0000" x2="0.0000" y2="1.0000"><stop offset="0.0000" stop-color="#000000"/><stop offset="0.0625" stop-color="#004700"/><stop offset="0.1250" stop-color="#006300"/><stop offset="0.1875" stop-color="#007800"/><stop offset="0.2500" stop-color="#008900"/><stop offset="0.3125" stop-color="#009800"/><stop offset="0.3750" stop-color="#00a500"/><stop offset="0.4375" stop-color="#00b100"/><stop offset="0.5000" stop-color="#00bc00"/><stop offset="0.5625" stop-color="#00c600"/><stop offset="0.6250" stop-color="#00cf00"/><stop offset="0.6875" stop-color="#00d800"/><stop offset="0.7500" stop-color="#00e100"/><stop offset="0.8125" stop-color="#00e900"/><stop offset="0.8750" stop-color="#00f000"/><stop offset="0.9375" stop-color="#00f800"/><stop offset="1.0000" stop-color="#00ff00"/></linearGradient>
<linearGradient id="q21c2" x1="0.0000" y1="0.0000" x2="1.0000" y2="1.0000"><stop offset="0.0000" stop-color="#000000"/><stop offset="0.0625" stop-color="#000047"/><stop offset="0.1250" stop-color="#000063"/><stop offset="0.1875" stop-color="#000078"/><stop offset="0.2500" stop-color="#000089"/><stop offset="0.3125" stop-color="#000098"/><stop offset="0.3750" stop-color="#0000a5"/><stop offset="0.4375" stop-color="#0000b1"/><stop offset="0.5000" stop-color="#0000bc"/><stop offset="0.5625" stop-color="#0000c6"/><stop offset="0.6250" stop-color="#0000cf"/><stop offset="0.6875" stop-color="#0000d8"/><stop offset="0.7500" stop-color="#0000e1"/><stop offset="0.8125" stop-color="#0000e9"/><stop offset="0.8750" stop-color="#0000f0"/><stop offset="0.9375" stop-color="#0000f8"/><stop offset="1.0000" stop-color="#0000ff"/></linearGradient>
<linearGradient id="f22c1" x1="0.0000" y1="0.0000" x2="1.0000" y2="0.0000"><stop offset="0.0000" stop-color="#000000"/><stop offset="0.0625" stop-color="#001000"/><stop offset="0.1250" stop-color="#002000"/><stop offset="0.1875" stop-color="#003000"/><stop offset="0.2500" stop-color="#004000"/><stop offset="0.3125" stop-color="#005000"/><stop offset="0.3750" stop-color="#006000"/><stop offset="0.4375" stop-color="#007000"/><stop offset="0.5000" stop-color="#008000"/><stop offset="0.5625" stop-color="#008f00"/><stop offset="0.6250" stop-color="#009f00"/><stop offset="0.6875" stop-color="#00af00"/><stop offset="0.7500" stop-color="#00bf00"/><stop offset="0.8125" stop-color="#00cf00"/><stop offset="0.8750" stop-color="#00df00"/><stop offset="0.9375" stop-color="#00ef00"/><stop offset="1.0000" stop-color="#00ff00"/></linearGradient>
<linearGradient id="f22c2" x1="0.0000" y1="0.0000" x2="0.0000" y2="1.0000"><stop offset="0.0000" stop-color="#000000"/><stop offset="0.0625" stop-color="#000010"/><stop offset="0.1250" stop-color="#000020"/><stop offset="0.1875" stop-color="#000030"/><stop offset="0.2500" stop-color="#000040"/><stop offset="0.3125" stop-color="#000050"/><stop offset="0.3750" stop-color="#000060"/><stop offset="0.4375" stop-color="#000070"/><stop offset="0.5000" stop-color="#000080"/><stop offset="0.5625" stop-color="#00008f"/><stop offset="0.6250" stop-color="#00009f"/><stop offset="0.6875" stop-color="#0000af"/><stop offset="0.7500" stop-color="#0000bf"/><stop offset="0.8125" stop-color="#0000cf"/><stop offset="0.8750" stop-color="#0000df"/><stop offset="0.9375" stop-color="#0000ef"/><stop offset="1.0000" stop-color="#0000ff"/></linearGradient>
<linearGradient id="f23c0" x1="0.0000" y1="0.0000" x2="0.0000" y2="1.0000"><stop offset="0.0000" stop-color="#000000"/><stop offset="0.0625" stop-color="#100000"/><stop offset="0.1250" stop-color="#200000"/><stop offset="0.1875" stop-color="#300000"/><stop offset="0.2500" stop-color="#400000"/><stop offset="0.3125" stop-color="#500000"/><stop offset="0.3750" stop-color="#600000"/><stop offset="0.4375" stop-color="#700000"/><stop offset="0.5000" stop-color="#800000"/><stop offset="0.5625" stop-color="#8f0000"/><stop offset="0.6250" stop-color="#9f0000"/><stop offset="0.6875" stop-color="#af0000"/><stop offset="0.7500" stop-color="#bf0000"/><stop offset="0.8125" stop-color="#cf0000"/><stop offset="0.8750" stop-color="#df0000"/><stop offset="0.9375" stop-color="#ef0000"/><stop offset="1.0000" stop-color="#ff0000"/></linearGradient>
<linearGradient id="f23c2" x1="0.0000" y1="0.0000" x2="1.0000" y2="0.0000"><stop offset="0.0000" stop-color="#000000"/><stop offset="0.0625" stop-color="#000010"/><stop offset="0.1250" stop-color="#000020"/><stop offset="0.1875" stop-color="#000030"/><stop offset="0.2500" stop-color="#000040"/><stop offset="0.3125" stop-color="#000050"/><stop offset="0.3750" stop-color="#000060"/><stop offset="0.4375" stop-color="#000070"/><stop offset="0.5000" stop-color="#000080"/><stop offset="0.5625" stop-color="#00008f"/><stop offset="0.6250" stop-color="#00009f"/><stop offset="0.6875" stop-color="#0000af"/><stop offset="0.7500" stop-color="#0000bf"/><stop offset="0.8125" stop-color="#0000cf"/><stop offset="0.8750" stop-color="#0000df"/><stop offset="0.9375" stop-color="#0000ef"/><stop offset="1.0000" stop-color="#0000ff"/></linearGradient>
<linearGradient id="f24c0" x1="0.0000" y1="0.0000" x2="1.0000" y2="0.0000"><stop offset="0.0000" stop-color="#000000"/><stop offset="0.0625" stop-color="#100000"/><stop offset="0.1250" stop-color="#200000"/><stop offset="0.1875" stop-color="#300000"/><stop offset="0.2500" stop-color="#400000"/><stop offset="0.3125" stop-color="#500000"/><stop offset="0.3750" stop-color="#600000"/><stop offset="0.4375" stop-color="#700000"/><stop offset="0.5000" stop-color="#800000"/><stop offset="0.5625" stop-color="#8f0000"/><stop offset="0.6250" stop-color="#9f0000"/><stop offset="0.6875" stop-color="#af0000"/><stop offset="0.7500" stop-color="#bf0000"/><stop offset="0.8125" stop-color="#cf0000"/><stop offset="0.8750" stop-color="#df0000"/><stop offset="0.9375" stop-color="#ef0000"/><stop offset="1.0000" stop-color="#ff0000"/></linearGradient>
<linearGradient id="f24c1" x1="0.0000" y1="0.0000" x2="0.0000" y2="1.0000"><stop offset="0.0000" stop-color="#000000"/><stop offset="0.0625" stop-color="#001000"/><stop offset="0.1250" stop-color="#002000"/><stop offset="0.1875" stop-color="#003000"/><stop offset="0.2500" stop-color="#004000"/><stop offset="0.3125" stop-color="#005000"/><stop offset="0.3750" stop-color="#006000"/><stop offset="0.4375" stop-color="#007000"/><stop offset="0.5000" stop-color="#008000"/><stop offset="0.5625" stop-color="#008f00"/><stop offset="0.6250" stop-color="#009f00"/><stop offset="0.6875" stop-color="#00af00"/><stop offset="0.7500" stop-color="#00bf00"/><stop offset="0.8125" stop-color="#00cf00"/><stop offset="0.8750" stop-color="#00df00"/><stop offset="0.9375" stop-color="#00ef00"/><stop offset="1.0000" stop-color="#00ff00"/></linearGradient>
<linearGradient id="f25c1" x1="1.0000" y1="0.0000" x2="0.0000" y2="0.0000"><stop offset="0.0000" stop-color="#000000"/><stop offset="0.0625" stop-color="#001000"/><stop offset="0.1250" stop-color="#002000"/><stop offset="0.1875" stop-color="#003000"/><stop offset="0.2500" stop-color="#004000"/><stop offset="0.3125" stop-color="#005000"/><stop offset="0.3750" stop-color="#006000"/><stop offset="0.4375" stop-color="#007000"/><stop offset="0.5000" stop-color="#008000"/><stop offset="0.5625" stop-color="#008f00"/><stop offset="0.6250" stop-color="#009f00"/><stop offset="0.6875" stop-color="#00af00"/><stop offset="0.7500" stop-color="#00bf00"/><stop offset="0.8125" stop-color="#00cf00"/><stop offset="0.8750" stop-color="#00df00"/><stop offset="0.9375" stop-color="#00ef00"/><stop offset="1.0000" stop-color="#00ff00"/></linearGradient>
<linearGradient id="f25c2" x1="0.0000" y1="1.0000" x2="0.0000" y2="0.0000"><stop offset="0.0000" stop-color="#000000"/><stop offset="0.0625" stop-color="#000010"/><stop offset="0.1250" stop-color="#000020"/><stop offset="0.1875" stop-color="#000030"/><stop offset="0.2500" stop-color="#000040"/><stop offset="0.3125" stop-color="#000050"/><stop offset="0.3750" stop-color="#000060"/><stop offset="0.4375" stop-color="#000070"/><stop offset="0.5000" stop-color="#000080"/><stop offset="0.5625" stop-color="#00008f"/><stop offset="0.6250" stop-color="#00009f"/><stop offset="0.6875" stop-color="#0000af"/><stop offset="0.7500" stop-color="#0000bf"/><stop offset="0.8125" stop-color="#0000cf"/><stop offset="0.8750" stop-color="#0000df"/><stop offset="0.9375" stop-color="#0000ef"/><stop offset="1.0000" stop-color="#0000ff"/></linearGradient>
<linearGradient id="f26c0" x1="0.0000" y1="1.0000" x2="0.0000" y2="0.0000"><stop offset="0.0000" stop-color="#000000"/><stop offset="0.0625" stop-color="#100000"/><stop offset="0.1250" stop-color="#200000"/><stop offset="0.1875" stop-color="#300000"/><stop offset="0.2500" stop-color="#400000"/><stop offset="0.3125" stop-color="#500000"/><stop offset="0.3750" stop-color="#600000"/><stop offset="0.4375" stop-color="#700000"/><stop offset="0.5000" stop-color="#800000"/><stop offset="0.5625" stop-color="#8f0000"/><stop offset="0.6250" stop-color="#9f0000"/><stop offset="0.6875" stop-color="#af0000"/><stop offset="0.7500" stop-color="#bf0000"/><stop offset="0.8125" stop-color="#cf0000"/><stop offset="0.8750" stop-color="#df0000"/><stop offset="0.9375" stop-color="#ef0000"/><stop offset="1.0000" stop-color="#ff0000"/></linearGradient>
<linearGradient id="f26c2" x1="1.0000" y1="0.0000" x2="0.0000" y2="0.0000"><stop offset="0.0000" stop-color="#000000"/><stop offset="0.0625" stop-color="#000010"/><stop offset="0.1250" stop-color="#000020"/><stop offset="0.1875" stop-color="#000030"/><stop offset="0.2500" stop-color="#000040"/><stop offset="0.3125" stop-color="#000050"/><stop offset="0.3750" stop-color="#000060"/><stop offset="0.4375" stop-color="#000070"/><stop offset="0.5000" stop-color="#000080"/><stop offset="0.5625" stop-color="#00008f"/><stop offset="0.6250" stop-color="#00009f"/><stop offset="0.6875" stop-color="#0000af"/><stop offset="0.7500" stop-color="#0000bf"/><stop offset="0.8125" stop-color="#0000cf"/><stop offset="0.8750" stop-color="#0000df"/><stop offset="0.9375" stop-color="#0000ef"/><stop offset="1.0000" stop-color="#0000ff"/></linearGradient>
<linearGradient id="f27c0" x1="1.0000" y1="0.0000" x2="0.0000" y2="0.0000"><stop offset="0.0000" stop-color="#000000"/><stop offset="0.0625" stop-color="#100000"/><stop offset="0.1250" stop-color="#200000"/><stop offset="0.1875" stop-color="#300000"/><stop offset="0.2500" stop-color="#400000"/><stop offset="0.3125" stop-color="#500000"/><stop offset="0.3750" stop-color="#600000"/><stop offset="0.4375" stop-color="#700000"/><stop offset="0.5000" stop-color="#800000"/><stop offset="0.5625" stop-color="#8f0000"/><stop offset="0.6250" stop-color="#9f0000"/><stop offset="0.6875" stop-color="#af0000"/><stop offset="0.7500" stop-color="#bf0000"/><stop offset="0.8125" stop-color="#cf0000"/><stop offset="0.8750" stop-color="#df0000"/><stop offset="0.9375" stop-color="#ef0000"/><stop offset="1.0000" stop-color="#ff0000"/></linearGradient>
<linearGradient id="f27c1" x1="0.0000" y1="1.0000" x2="0.0000" y2="0.0000"><stop offset="0.0000" stop-color="#000000"/><stop offset="0.0625" stop-color="#001000"/><stop offset="0.1250" stop-color="#002000"/><stop offset="0.1875" stop-color="#003000"/><stop offset="0.2500" stop-color="#004000"/><stop offset="0.3125" stop-color="#005000"/><stop offset="0.3750" stop-color="#006000"/><stop offset="0.4375" stop-color="#007000"/><stop offset="0.5000" stop-color="#008000"/><stop offset="0.5625" stop-color="#008f00"/><stop offset="0.6250" stop-color="#009f00"/><stop offset="0.6875" stop-color="#00af00"/><stop offset="0.7500" stop-color="#00bf00"/><stop offset="0.8125" stop-color="#00cf00"/><stop offset="0.8750" stop-color="#00df00"/><stop offset="0.9375" stop-color="#00ef00"/><stop offset="1.0000" stop-color="#00ff00"/></linearGradient>
</defs>
<rect width="900" height="900" fill="#fff"/>
<g stroke="#999" stroke-width="1"><line x1="100" y1="100" x2="100" y2="800"/><line x1="100" y1="100" x2="800" y2="100"/><line x1="200" y1="100" x2="200" y2="800"/><line x1="100" y1="200" x2="800" y2="200"/><line x1="300" y1="100" x2="300" y2="800"/><line x1="100" y1="300" x2="800" y2="300"/><line x1="400" y1="100" x2="400" y2="800"/><line x1="100" y1="400" x2="800" y2="400"/><line x1="500" y1="100" x2="500" y2="800"/><line x1="100" y1="500" x2="800" y2="500"/><line x1="600" y1="100" x2="600" y2="800"/><line x1="100" y1="600" x2="800" y2="600"/><line x1="700" y1="100" x2="700" y2="800"/><line x1="100" y1="700" x2="800" y2="700"/><line x1="800" y1="100" x2="800" y2="800"/><line x1="100" y1="800" x2="800" y2="800"/></g>
<polygon points="740.07,470.03 400.00,200.00 250.02,739.99" fill="none" stroke="#a3a3a3" stroke-width="1"/>
<g transform="translate(0.5 0.5)" shape-rendering="crispEdges"><line x1="412.72" y1="471.00" x2="451.40" y2="470.88" stroke="url(#g0)" stroke-width="6.01" stroke-linecap="butt"/>
<line x1="412.72" y1="471.00" x2="494.58" y2="405.73" stroke="url(#g1)" stroke-width="7.27" stroke-linecap="butt"/>
<line x1="412.72" y1="471.00" x2="519.32" y2="294.74" stroke="url(#g2)" stroke-width="7.15" stroke-linecap="butt"/>
<line x1="412.72" y1="471.00" x2="472.35" y2="257.45" stroke="url(#g3)" stroke-width="6.67" stroke-linecap="butt"/>
<line x1="412.72" y1="471.00" x2="400.00" y2="200.00" stroke="url(#g4)" stroke-width="6.12" stroke-linecap="butt"/>
<line x1="412.72" y1="471.00" x2="349.69" y2="381.12" stroke="url(#g5)" stroke-width="7.22" stroke-linecap="butt"/>
<line x1="412.72" y1="471.00" x2="324.66" y2="471.26" stroke="url(#g6)" stroke-width="6.01" stroke-linecap="butt"/>
<line x1="412.72" y1="471.00" x2="366.94" y2="507.50" stroke="url(#g7)" stroke-width="7.27" stroke-linecap="butt"/>
<line x1="412.72" y1="471.00" x2="386.30" y2="514.68" stroke="url(#g8)" stroke-width="7.15" stroke-linecap="butt"/>
<line x1="412.72" y1="471.00" x2="399.18" y2="519.46" stroke="url(#g9)" stroke-width="6.67" stroke-linecap="butt"/>
<line x1="412.72" y1="471.00" x2="415.27" y2="525.42" stroke="url(#g10)" stroke-width="6.12" stroke-linecap="butt"/>
<line x1="412.72" y1="471.00" x2="432.57" y2="499.31" stroke="url(#g11)" stroke-width="7.22" stroke-linecap="butt"/>
<line x1="400.00" y1="200.00" x2="551.29" y2="320.13" stroke="url(#g12)" stroke-width="7.27" stroke-linecap="butt"/>
<line x1="551.29" y1="320.13" x2="415.27" y2="525.42" stroke="url(#g13)" stroke-width="7.2" stroke-linecap="butt"/>
<line x1="415.27" y1="525.42" x2="319.48" y2="489.90" stroke="url(#g14)" stroke-width="6.85" stroke-linecap="butt"/>
<line x1="319.48" y1="489.90" x2="400.00" y2="200.00" stroke="url(#g15)" stroke-width="6.67" stroke-linecap="butt"/>
<rect x="396.75" y="196.75" width="6.5" height="6.5" fill="#00fc00"/>
<rect x="548.04" y="316.88" width="6.5" height="6.5" fill="#ffd600"/>
<rect x="412.02" y="522.17" width="6.5" height="6.5" fill="#ffc7ff"/>
<rect x="316.23" y="486.65" width="6.5" height="6.5" fill="#00f0ff"/></g>
<g font-size="24"><text x="101.8" y="830" text-anchor="middle">0.0</text><text x="88.2" y="800" text-anchor="end">0.0</text><text x="201.8" y="830" text-anchor="middle">0.1</text><text x="88.2" y="706.6" text-anchor="end">0.1</text><text x="301.8" y="830" text-anchor="middle">0.2</text><text x="88.2" y="606.6" text-anchor="end">0.2</text><text x="401.8" y="830" text-anchor="middle">0.3</text><text x="88.2" y="506.6" text-anchor="end">0.3</text><text x="501.8" y="830" text-anchor="middle">0.4</text><text x="88.2" y="406.6" text-anchor="end">0.4</text><text x="601.8" y="830" text-anchor="middle">0.5</text><text x="88.2" y="306.6" text-anchor="end">0.5</text><text x="701.8" y="830" text-anchor="middle">0.6</text><text x="88.2" y="206.6" text-anchor="end">0.6</text><text x="801.8" y="830" text-anchor="middle">0.7</text><text x="88.2" y="106.6" text-anchor="end">0.7</text></g>
<text x="50.5" y="40" font-size="22">View from the top</text>
<text x="418" y="79.5" font-size="20" text-anchor="middle">Y = [0.69, 0.70]</text>
<text x="20" y="875" font-size="24">CIE xy</text>
<text x="455.5" y="870" font-size="24" text-anchor="middle">x</text>
<text x="20" y="399" font-size="24">y</text>
<g shape-rendering="crispEdges"><g transform="matrix(-16.900 -13.100 15.800 -3.200 667.000 26.500)" style="isolation:isolate"><rect width="1" height="1" fill="#000"/><rect width="1" height="1" fill="url(#q16c0)" style="mix-blend-mode:screen"/><rect width="1" height="1" fill="url(#q16c1)" style="mix-blend-mode:screen"/><rect width="1" height="1" fill="url(#q16c2)" style="mix-blend-mode:screen"/></g>
<g transform="matrix(-15.900 -7.000 16.800 -9.100 700.000 26.500)" style="isolation:isolate"><rect width="1" height="1" fill="#000"/><rect width="1" height="1" fill="url(#q17c0)" style="mix-blend-mode:screen"/><rect width="1" height="1" fill="url(#q17c1)" style="mix-blend-mode:screen"/><rect width="1" height="1" fill="url(#q17c2)" style="mix-blend-mode:screen"/></g>
<g transform="matrix(-16.700 -1.000 16.250 -15.200 666.800 43.400)" style="isolation:isolate"><rect width="1" height="1" fill="#000"/><rect width="1" height="1" fill="url(#q18c0)" style="mix-blend-mode:screen"/><rect width="1" height="1" fill="url(#q18c1)" style="mix-blend-mode:screen"/><rect width="1" height="1" fill="url(#q18c2)" style="mix-blend-mode:screen"/></g>
<g transform="matrix(-16.100 -3.100 15.800 -13.100 700.200 43.400)" style="isolation:isolate"><rect width="1" height="1" fill="#000"/><rect width="1" height="1" fill="url(#q19c0)" style="mix-blend-mode:screen"/><rect width="1" height="1" fill="url(#q19c1)" style="mix-blend-mode:screen"/><rect width="1" height="1" fill="url(#q19c2)" style="mix-blend-mode:screen"/></g>
<g transform="matrix(-15.700 -5.000 16.450 -12.200 666.600 60.500)" style="isolation:isolate"><rect width="1" height="1" fill="#000"/><rect width="1" height="1" fill="url(#q20c0)" style="mix-blend-mode:screen"/><rect width="1" height="1" fill="url(#q20c1)" style="mix-blend-mode:screen"/><rect width="1" height="1" fill="url(#q20c2)" style="mix-blend-mode:screen"/></g>
<g transform="matrix(-16.100 -3.900 16.400 -12.200 700.200 60.500)" style="isolation:isolate"><rect width="1" height="1" fill="#000"/><rect width="1" height="1" fill="url(#q21c0)" style="mix-blend-mode:screen"/><rect width="1" height="1" fill="url(#q21c1)" style="mix-blend-mode:screen"/><rect width="1" height="1" fill="url(#q21c2)" style="mix-blend-mode:screen"/></g>
<g transform="translate(663 61) scale(15 15)" style="isolation:isolate"><rect width="1" height="1" fill="#000"/><rect width="1" height="1" fill="#ff0000" style="mix-blend-mode:screen"/><rect width="1" height="1" fill="url(#f22c1)" style="mix-blend-mode:screen"/><rect width="1" height="1" fill="url(#f22c2)" style="mix-blend-mode:screen"/></g>
<g transform="translate(678 61) scale(14 15)" style="isolation:isolate"><rect width="1" height="1" fill="#000"/><rect width="1" height="1" fill="url(#f23c0)" style="mix-blend-mode:screen"/><rect width="1" height="1" fill="#00ff00" style="mix-blend-mode:screen"/><rect width="1" height="1" fill="url(#f23c2)" style="mix-blend-mode:screen"/></g>
<g transform="translate(692 61) scale(14 15)" style="isolation:isolate"><rect width="1" height="1" fill="#000"/><rect width="1" height="1" fill="url(#f24c0)" style="mix-blend-mode:screen"/><rect width="1" height="1" fill="url(#f24c1)" style="mix-blend-mode:screen"/><rect width="1" height="1" fill="#0000ff" style="mix-blend-mode:screen"/></g>
<g transform="translate(663 76) scale(15 14)" style="isolation:isolate"><rect width="1" height="1" fill="#000"/><rect width="1" height="1" fill="url(#f25c1)" style="mix-blend-mode:screen"/><rect width="1" height="1" fill="url(#f25c2)" style="mix-blend-mode:screen"/></g>
<g transform="translate(678 76) scale(14 14)" style="isolation:isolate"><rect width="1" height="1" fill="#000"/><rect width="1" height="1" fill="url(#f26c0)" style="mix-blend-mode:screen"/><rect width="1" height="1" fill="url(#f26c2)" style="mix-blend-mode:screen"/></g>
<g transform="translate(692 76) scale(14 14)" style="isolation:isolate"><rect width="1" height="1" fill="#000"/><rect width="1" height="1" fill="url(#f27c0)" style="mix-blend-mode:screen"/><rect width="1" height="1" fill="url(#f27c1)" style="mix-blend-mode:screen"/></g></g>
</svg>
</body></html>
